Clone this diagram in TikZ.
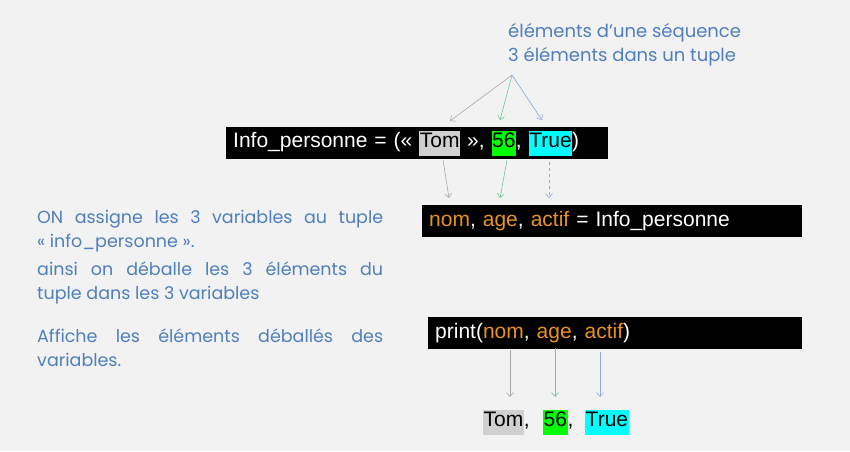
\documentclass[tikz,border=0pt]{standalone}
\usepackage{fontspec}
\setmainfont{Liberation Sans}
\newfontfamily\notefont{Poppins}
\usetikzlibrary{arrows.meta, positioning}

\definecolor{bgcol}{HTML}{F2F2F2}
\definecolor{noteblue}{RGB}{80,127,188}
\definecolor{varorange}{RGB}{233,146,32}
\definecolor{hlgray}{HTML}{D0D0D0}
\definecolor{hlgreen}{HTML}{00FF00}
\definecolor{hlcyan}{HTML}{00FFFF}
\definecolor{arrgray}{HTML}{A9A9A9}
\definecolor{arrgreen}{HTML}{72C694}
\definecolor{arrblue}{HTML}{8DA9D6}

\newcommand{\hlbox}[2]{{\setlength{\fboxsep}{0.5pt}\colorbox{#1}{\textcolor{black}{\strut #2}}}}
\newcommand{\varname}[1]{\textcolor{varorange}{#1}}

\begin{document}
\begin{tikzpicture}[
    x=1pt, y=-1pt,
    >={Straight Barb[length=4pt,width=7pt]},
    % Core styles
    codebox/.style={
        fill=black, text=white, anchor=west, minimum height=32pt,
        inner xsep=7pt, inner ysep=0pt, text width=#1, align=left,
        font=\fontsize{21}{24}\selectfont
    },
    note/.style={text=noteblue, inner sep=0pt, font=\notefont\fontsize{17.5}{24}\selectfont},
    result/.style={inner sep=0pt, anchor=west, font=\fontsize{21}{24}\selectfont},
    link/.style={->, draw=#1, line width=0.6pt}
]

% === BACKGROUND ===
\fill[bgcol] (0,0) rectangle (850,451);
\useasboundingbox (0,0) rectangle (850,451);

% === TITLE ===
\node[note, anchor=north west, align=left, font=\notefont\fontsize{18}{24}\selectfont] (title) at (508,23)
    {éléments d’une séquence\\3 éléments dans un tuple};

% === CODE LINES ===
\node[codebox=368pt] (tuple) at (226,143)
    {Info\_personne = (« \hlbox{hlgray}{Tom} », \hlbox{hlgreen}{56}, \hlbox{hlcyan}{True})};
\node[codebox=366pt] (unpack) at (422,221)
    {\varname{nom}, \varname{age}, \varname{actif} = Info\_personne};
\node[codebox=360pt] (print) at (428,333)
    {print(\varname{nom}, \varname{age}, \varname{actif})};

% === RESULT ===
\node[result] (resTom) at (483,422) {\hlbox{hlgray}{Tom},};
\node[result] (resAge) at (543,422) {\hlbox{hlgreen}{56},};
\node[result] (resTrue) at (585,422) {\hlbox{hlcyan}{True}};

% === NOTES ===
\node[note, anchor=north west, text width=346pt, align=justify] (noteAssign) at (37,210)
    {ON assigne les 3 variables au tuple\linebreak
     « info\_personne ».\par\vspace{4pt}\noindent
     ainsi on déballe les 3 éléments du\linebreak
     tuple dans les 3 variables};
\node[note, anchor=north west, text width=346pt, align=justify] (notePrint) at (37,329)
    {Affiche les éléments déballés des\linebreak
     variables.};

% === ARROWS ===
\coordinate (fork) at (512,75);
\coordinate (tomIn) at (450,121);
\coordinate (ageIn) at (500,120);
\coordinate (trueIn) at (542,120);
\draw[link=arrgray] (fork) -- (tomIn);
\draw[link=arrgreen] (fork) -- (ageIn);
\draw[link=arrblue] (fork) -- (trueIn);

\coordinate (tomOut) at (443,160);
\coordinate (ageOut) at (507,160);
\coordinate (trueOut) at (549,162);
\draw[link=arrgray] (tomOut) -- (449,198);
\draw[link=arrgreen] (ageOut) -- (500,198);
\draw[link=arrblue, dashed] (trueOut) -- (549,198);

\coordinate (nomPr) at (510,350);
\coordinate (agePr) at (555,348);
\coordinate (actifPr) at (600,352);
\draw[link=arrgray] (nomPr) -- (510,397);
\draw[link=arrgreen] (agePr) -- (555,397);
\draw[link=arrblue] (actifPr) -- (600,397);

\end{tikzpicture}
\end{document}
